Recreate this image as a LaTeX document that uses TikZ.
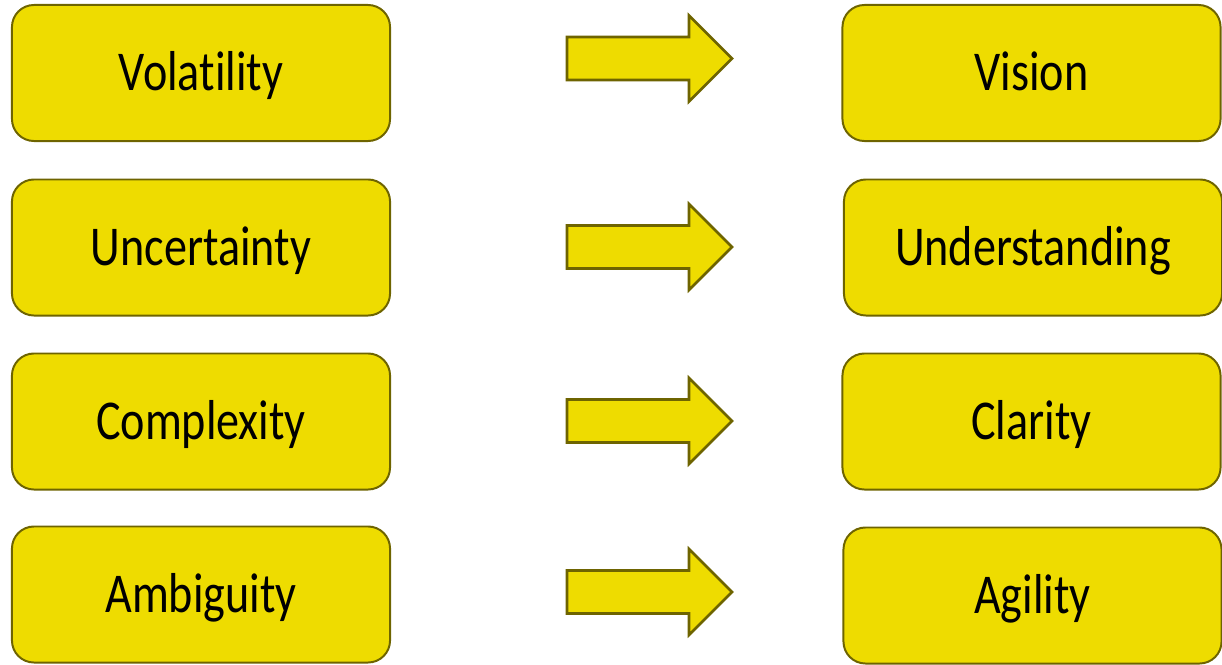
\documentclass[tikz,border=0pt]{standalone}
\usepackage{fontspec}
\setmainfont{Carlito}[FakeStretch=0.82, Ligatures={NoCommon, NoRequired, NoContextual}]
\usetikzlibrary{positioning}
\definecolor{boxfill}{HTML}{EEDC00}
\definecolor{boxline}{HTML}{6E6400}
\tikzset{
  vbox/.style={draw=boxline, fill=boxfill, line width=1.4pt, rounded corners=0.55cm,
    minimum width=9.45cm, minimum height=3.4cm, inner sep=0pt,
    font=\fontsize{40}{44}\selectfont, text height=25pt, text depth=0pt},
  blockarrow/.pic={
    \draw[draw=boxline, fill=boxfill, line width=1.8pt, line join=miter]
      (0,-21.5) -- (122,-21.5) -- (122,-43) -- (165,0) -- (122,43) -- (122,21.5) -- (0,21.5) -- cycle;
  }
}

\begin{document}
\begin{tikzpicture}[x=0.025cm, y=-0.025cm]
            \useasboundingbox (0,0) rectangle (1222,664);

            % VUCA
            \node[vbox] (vol) at (201,73) {Volatility};
            \node[vbox] (unc) at (201,247.5) {Uncertainty};
            \node[vbox] (com) at (201,421.5) {Complexity};
            \node[vbox] (amb) at (201,594.5) {Ambiguity};

            % answers
            \node[vbox] (vis) at (1031.5,73) {Vision};
            \node[vbox] (und) at (1033,247.5) {Understanding};
            \node[vbox] (cla) at (1031.5,421.5) {Clarity};
            \node[vbox] (agi) at (1032.5,595.5) {Agility};

            % arrows in between
            \pic (a1) at (567,58.5) {blockarrow};
            \pic (a2) at (567,247) {blockarrow};
            \pic (a3) at (567,421) {blockarrow};
            \pic (a4) at (567,592) {blockarrow};
        \end{tikzpicture}
\end{document}
